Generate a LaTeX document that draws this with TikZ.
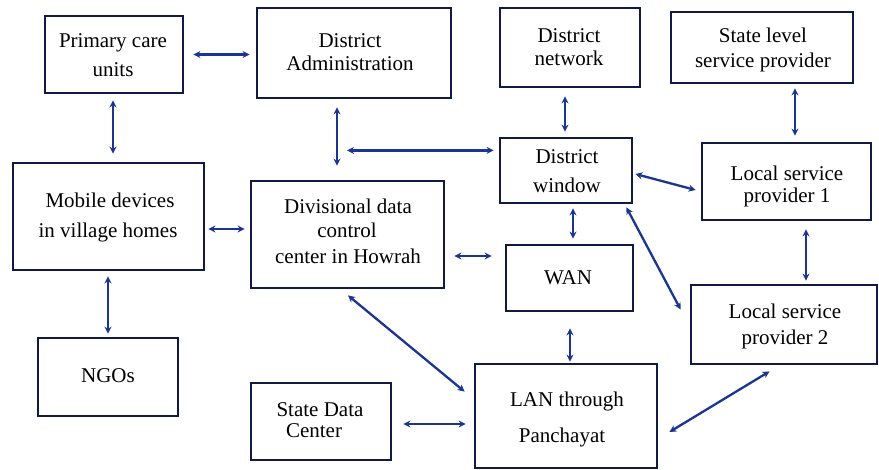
\documentclass[tikz,border=0pt]{standalone}
\usepackage{fontspec}
\setmainfont{Liberation Serif}
\usetikzlibrary{arrows.meta,calc}
\definecolor{boxc}{HTML}{101A45}
\definecolor{arrc}{HTML}{1C3590}
\begin{document}
\begin{tikzpicture}[x=1pt,y=-1pt,
  tx/.style={anchor=base,inner sep=0pt,font=\fontsize{21}{25}\selectfont,text=black},
  arr/.style={draw=arrc,line width=2.3pt,{Stealth[length=7pt,width=7pt]}-{Stealth[length=7pt,width=7pt]}}]
\useasboundingbox[fill=white] (0,0) rectangle (879,469);
% boxes (corner based)
\newcommand{\mybox}[5]{\node[draw=boxc,line width=2.8pt,inner sep=0pt,minimum width={#4-#2},minimum height={#5-#3}] (#1) at ({(#2+#4)/2},{(#3+#5)/2}) {};}
\mybox{pc}{45}{16}{183}{93}
\mybox{da}{257}{8}{451}{98}
\mybox{dn}{500}{8}{640}{87}
\mybox{sl}{671}{12}{853}{83}
\mybox{mob}{13}{163}{204}{270}
\mybox{ddc}{251}{181}{444}{288}
\mybox{dw}{500}{138}{632}{203}
\mybox{lsp1}{702}{143}{871}{220}
\mybox{wan}{506}{245}{633}{311}
\mybox{lsp2}{691}{285}{877}{364}
\mybox{ngo}{38}{338}{178}{416}
\mybox{sdc}{251}{383}{391}{460}
\mybox{lan}{475}{364}{657}{468}
% texts
\node[tx] (t1) at (113,47) {Primary care};
\node[tx] (t2) at (113,76) {units};
\node[tx] (t3) at (350,47) {District};
\node[tx] (t4) at (350,70) {Administration};
\node[tx] (t5) at (569,42) {District};
\node[tx] (t6) at (569,65) {network};
\node[tx] (t7) at (763,42) {State level};
\node[tx] (t8) at (763,67) {service provider};
\node[tx] (t9) at (567,163) {District};
\node[tx] (t10) at (567,192) {window};
\node[tx] (t11) at (787,180) {Local service};
\node[tx] (t12) at (787,202) {provider 1};
\node[tx] (t13) at (110,207) {Mobile devices};
\node[tx] (t14) at (108,237) {in village homes};
\node[tx] (t15) at (348,213) {Divisional data};
\node[tx] (t16) at (347,237) {control};
\node[tx] (t17) at (348,263) {center in Howrah};
\node[tx] (t18) at (108,382) {NGOs};
\node[tx] (t19) at (320,416) {State Data};
\node[tx] (t20) at (314,437) {Center};
\node[tx] (t21) at (568,284) {WAN};
\node[tx] (t22) at (785,318) {Local service};
\node[tx] (t23) at (785,344) {provider 2};
\node[tx] (t24) at (567,406) {LAN through};
\node[tx] (t25) at (562,442) {Panchayat};
% connectors
\coordinate (hl) at ($(da.south)+(-7,51)$);
\draw[arr] (hl -| dw.west) ++(-5,0) -- (hl);
\draw[arr] ($(pc.east)+(9,0)$) -- ($(pc.east -| da.west)+(-6,0)$);
\draw[arr] ($(pc.south)+(-1,6)$) -- ($(pc.south |- mob.north)+(-1,-8)$);
\draw[arr] ($(da.south)+(-17,8)$) -- ($(da.south |- ddc.north)+(-17,-14)$);
\draw[arr] ($(dn.south)+(-5,8)$) -- ($(dn.south |- dw.north)+(-5,-5)$);
\draw[arr] ($(sl.south)+(33,4)$) -- ($(sl.south |- lsp1.north)+(33,-6)$);
\draw[arr] ($(dw.east)+(2,3.5)$) -- ($(lsp1.west)+(-5,8.5)$);
\draw[arr] ($(dw.south)+(7,4)$) -- ($(dw.south |- wan.north)+(7,-5)$);
\draw[arr] ($(dw.south east)+(-7,3)$) -- ($(lsp2.west)+(-9,-15)$);
\draw[arr] ($(mob.east)+(3,12.5)$) -- ($(mob.east -| ddc.west)+(-5,12.5)$);
\draw[arr] ($(ddc.east)+(9,21.5)$) -- ($(ddc.east -| wan.west)+(-13,21.5)$);
\draw[arr] ($(mob.south)+(-0.5,5)$) -- ($(mob.south |- ngo.north)+(-0.5,-3)$);
\draw[arr] ($(sdc.east)+(11,2.5)$) -- ($(sdc.east -| lan.west)+(-8,2.5)$);
\draw[arr] ($(ddc.south)+(0.5,6)$) -- ($(lan.north west)+(-9,29)$);
\draw[arr] ($(wan.south)+(0.5,16)$) -- ($(wan.south |- lan.north)+(0.5,-1)$);
\draw[arr] ($(lsp1.south)+(19.5,8)$) -- ($(lsp1.south |- lsp2.north)+(19.5,-3)$);
\draw[arr] ($(lan.east)+(11,16)$) -- ($(lsp2.south)+(-14.5,6)$);
\end{tikzpicture}
\end{document}
